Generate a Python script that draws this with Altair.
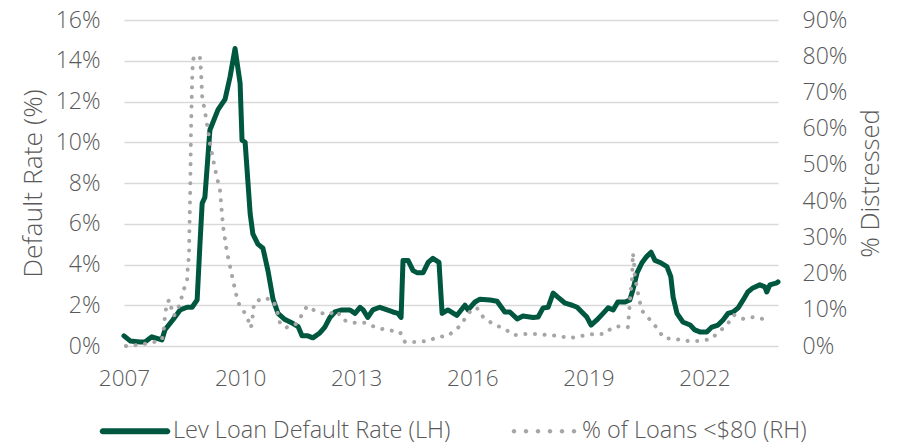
import altair as alt
import pandas as pd

# Leveraged loan default rate (%), left axis
default_year = [2007.00, 2007.16, 2007.41, 2007.54, 2007.72, 2007.98, 2008.06, 2008.27, 2008.45, 2008.63,
                2008.76, 2008.89, 2008.96, 2009.02, 2009.09, 2009.22, 2009.43, 2009.61, 2009.74, 2009.87,
                2010.00, 2010.05, 2010.13, 2010.26, 2010.33, 2010.46, 2010.59, 2010.72, 2010.85, 2010.98,
                2011.16, 2011.37, 2011.50, 2011.60, 2011.75, 2011.88, 2012.06, 2012.19, 2012.32, 2012.45,
                2012.63, 2012.84, 2012.97, 2013.10, 2013.18, 2013.30, 2013.43, 2013.61, 2013.80, 2013.95,
                2014.08, 2014.16, 2014.21, 2014.34, 2014.47, 2014.57, 2014.73, 2014.86, 2014.98, 2015.14,
                2015.22, 2015.37, 2015.60, 2015.81, 2015.89, 2016.07, 2016.20, 2016.46, 2016.64, 2016.84,
                2016.97, 2017.16, 2017.31, 2017.57, 2017.70, 2017.83, 2017.96, 2018.09, 2018.21, 2018.40,
                2018.58, 2018.71, 2018.83, 2018.96, 2019.07, 2019.22, 2019.38, 2019.51, 2019.64, 2019.76,
                2019.95, 2020.07, 2020.15, 2020.26, 2020.39, 2020.51, 2020.62, 2020.72, 2020.85, 2021.03,
                2021.13, 2021.19, 2021.29, 2021.44, 2021.63, 2021.75, 2021.88, 2022.06, 2022.19, 2022.35,
                2022.48, 2022.61, 2022.74, 2022.87, 2023.00, 2023.12, 2023.25, 2023.43, 2023.56, 2023.61,
                2023.69, 2023.87, 2023.90]
default_rate = [0.5, 0.25, 0.2, 0.2, 0.45, 0.3, 0.8, 1.3, 1.77, 1.9,
                1.9, 2.26, 4.9, 7.0, 7.3, 10.6, 11.6, 12.1, 13.2, 14.6,
                12.9, 10.1, 10.0, 6.5, 5.5, 5.0, 4.8, 3.7, 2.3, 1.6,
                1.3, 1.1, 0.95, 0.5, 0.5, 0.4, 0.64, 0.93, 1.4, 1.67,
                1.77, 1.77, 1.6, 1.9, 1.77, 1.4, 1.77, 1.9, 1.77, 1.67,
                1.6, 1.4, 4.2, 4.2, 3.7, 3.6, 3.6, 4.1, 4.3, 4.1,
                1.6, 1.77, 1.5, 2.0, 1.77, 2.16, 2.3, 2.26, 2.2, 1.67,
                1.67, 1.33, 1.47, 1.4, 1.42, 1.87, 1.9, 2.6, 2.4, 2.1,
                2.0, 1.9, 1.67, 1.42, 1.03, 1.28, 1.6, 1.87, 1.77, 2.16,
                2.16, 2.26, 2.75, 3.6, 4.1, 4.4, 4.6, 4.2, 4.1, 3.9,
                3.4, 2.4, 1.6, 1.18, 1.03, 0.79, 0.69, 0.69, 0.93, 1.03,
                1.28, 1.6, 1.67, 1.87, 2.26, 2.65, 2.85, 3.0, 2.9, 2.65,
                3.0, 3.1, 3.15]

# Share of loans priced below $80 (%), right axis
distress_year = [2007.05, 2007.36, 2007.67, 2007.98, 2008.03, 2008.06, 2008.11, 2008.19, 2008.24, 2008.29,
                 2008.45, 2008.52, 2008.63, 2008.65, 2008.68, 2008.69, 2008.71, 2008.73, 2008.76, 2008.78,
                 2008.83, 2008.96, 2008.99, 2009.02, 2009.12, 2009.22, 2009.35, 2009.48, 2009.56, 2009.66,
                 2009.74, 2009.87, 2009.95, 2010.07, 2010.18, 2010.28, 2010.33, 2010.36, 2010.59, 2010.85,
                 2010.95, 2011.03, 2011.16, 2011.42, 2011.60, 2011.73, 2011.94, 2012.25, 2012.50, 2012.66,
                 2012.92, 2013.23, 2013.54, 2013.82, 2014.13, 2014.26, 2014.57, 2014.86, 2015.11, 2015.37,
                 2015.63, 2015.81, 2015.99, 2016.12, 2016.28, 2016.53, 2016.84, 2017.08, 2017.39, 2017.70,
                 2017.96, 2018.21, 2018.52, 2018.83, 2019.12, 2019.40, 2019.64, 2019.84, 2020.02, 2020.05,
                 2020.07, 2020.10, 2020.13, 2020.15, 2020.18, 2020.20, 2020.26, 2020.31, 2020.39, 2020.57,
                 2020.77, 2020.95, 2021.26, 2021.57, 2021.86, 2022.17, 2022.37, 2022.58, 2022.76, 2023.00,
                 2023.20, 2023.43, 2023.67]
distress_pct = [0.0, 0.3, 0.8, 1.7, 5.0, 8.3, 12.2, 12.7, 9.4, 8.3,
                11.6, 14.9, 18.0, 22.0, 25.0, 32.0, 42.0, 59.0, 73.0, 79.0,
                80.0, 80.0, 76.0, 69.0, 63.0, 56.0, 49.0, 43.0, 33.0, 26.0,
                22.0, 15.5, 12.0, 10.0, 8.0, 5.0, 8.6, 11.9, 13.3, 12.7,
                10.0, 6.4, 5.0, 5.8, 8.6, 11.0, 9.7, 8.6, 9.7, 7.2,
                6.4, 6.4, 5.0, 4.4, 3.9, 1.1, 1.1, 1.4, 2.5, 2.8,
                5.0, 7.5, 10.2, 10.5, 8.0, 6.1, 4.7, 3.0, 3.3, 3.3,
                3.0, 2.8, 2.2, 2.8, 3.3, 3.3, 5.2, 5.5, 5.2, 8.8,
                12.0, 15.5, 18.8, 25.7, 23.0, 19.0, 16.0, 13.0, 9.7, 7.5,
                5.0, 2.2, 1.9, 1.4, 1.4, 1.9, 3.9, 5.8, 8.6, 7.5,
                8.0, 7.7, 6.9]

series_names = ["Lev Loan Default Rate (LH)", "% of Loans <$80 (RH)"]
series_colors = ["#00573F", "#A6A6A6"]
year_ticks = [2007, 2010, 2013, 2016, 2019, 2022]
left_ticks = [0, 2, 4, 6, 8, 10, 12, 14, 16]
right_ticks = [0, 10, 20, 30, 40, 50, 60, 70, 80, 90]

df_default = pd.DataFrame({"year": default_year, "rate": default_rate})
df_distress = pd.DataFrame({"year": distress_year, "pct": distress_pct})
df_legend = pd.DataFrame({"series": series_names})

FONT = "Open Sans"
TXT = "#595959"

x_scale = alt.Scale(domain=[2007, 2023.9], nice=False, zero=False)
x_axis = alt.Axis(values=year_ticks, format="d", title=None, grid=False, domain=False,
                  ticks=False, labelPadding=21, labelFontSize=22.5, labelColor=TXT,
                  labelFont=FONT, labelFontWeight=300, labelOverlap=False, labelFlush=False)
x_enc = alt.X("year:Q", scale=x_scale, axis=x_axis)

green = alt.Chart(df_default).mark_line(
    color=series_colors[0], strokeWidth=5, strokeJoin="round", strokeCap="round"
).encode(
    x=x_enc,
    y=alt.Y("rate:Q", scale=alt.Scale(domain=[0, 16], nice=False),
            axis=alt.Axis(values=left_ticks, labelExpr="datum.value + '%'", title="Default Rate (%)",
                          orient="left", grid=True, gridColor="#D9D9D9", gridWidth=1.5,
                          domain=False, ticks=False, labelPadding=24, labelFontSize=23,
                          labelColor=TXT, labelFont=FONT, labelFontWeight=300, labelFlush=False,
                          titleFontSize=26.5, titleColor=TXT, titleFont=FONT, titleFontWeight=300,
                          titleAngle=-90, titleX=-91, titleY=163, titleAlign="center",
                          titleBaseline="middle")),
)

grey = alt.Chart(df_distress).mark_line(
    color=series_colors[1], strokeWidth=4, strokeDash=[0.1, 9.5], strokeCap="round", strokeJoin="round"
).encode(
    x=x_enc,
    y=alt.Y("pct:Q", scale=alt.Scale(domain=[0, 90], nice=False),
            axis=alt.Axis(values=right_ticks, labelExpr="datum.value + '%'", title="% Distressed",
                          orient="right", grid=False, domain=False, ticks=False, labelPadding=24,
                          labelFontSize=23, labelColor=TXT, labelFont=FONT, labelFontWeight=300,
                          labelFlush=False,
                          titleFontSize=25.5, titleColor=TXT, titleFont=FONT, titleFontWeight=300,
                          titleAngle=-90, titleX=92, titleY=163, titleAlign="center",
                          titleBaseline="middle")),
)

r = 0.065
dot_centers = [-0.857, -0.514, -0.171, 0.171, 0.514, 0.857]
dots_path = "".join(
    f"M{c - r:.3f},0a{r},{r} 0 1,0 {2 * r},0a{r},{r} 0 1,0 {-2 * r},0" for c in dot_centers
)
bar_path = "M-0.92,-0.086L0.92,-0.086A0.086,0.086 0 0,1 0.92,0.086L-0.92,0.086A0.086,0.086 0 0,1 -0.92,-0.086Z"

legend_layer = alt.Chart(df_legend).transform_filter("false").mark_point(filled=True, opacity=1).encode(
    color=alt.Color("series:N", scale=alt.Scale(domain=series_names, range=series_colors),
                    legend=alt.Legend(title=None, orient="none", direction="horizontal",
                                      legendX=-24, legendY=376, symbolSize=4900, symbolStrokeWidth=0,
                                      labelFontSize=23.5, labelColor=TXT, labelFont=FONT,
                                      labelFontWeight=300, labelOffset=3, columnPadding=58,
                                      labelLimit=400, symbolOpacity=1)),
    shape=alt.Shape("series:N", scale=alt.Scale(domain=series_names, range=[bar_path, dots_path])),
)

chart = alt.layer(green, grey, legend_layer).resolve_scale(y="independent").properties(
    width=654, height=326,
    autosize=alt.AutoSizeParams(type="none"),
    padding={"left": 116, "top": 12, "right": 112, "bottom": 105},
).configure_view(stroke=None)

chart.save("out.html", embed_options={"renderer": "svg", "actions": False})
